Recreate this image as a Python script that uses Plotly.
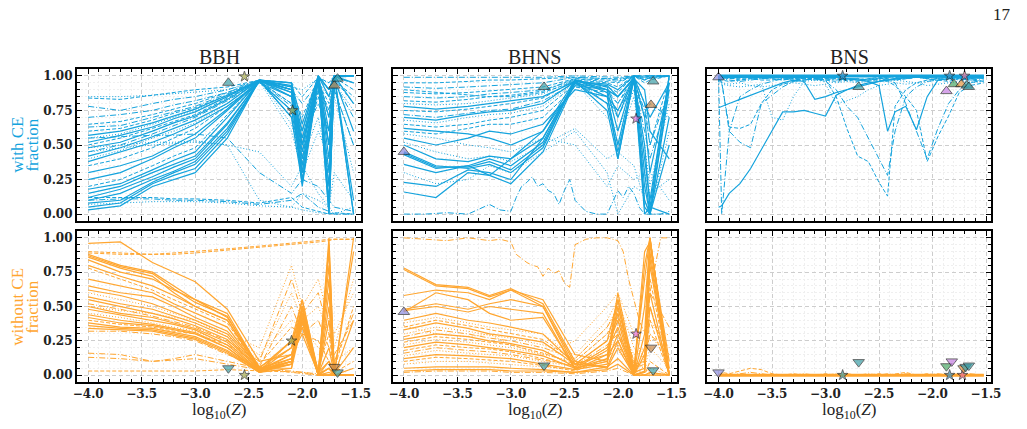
import plotly.graph_objects as go

# ---------------- data ----------------
X = [-4.0, -3.7, -3.4, -3.2, -3.0, -2.7, -2.4, -2.1, -2.0, -1.85, -1.75, -1.7, -1.52]
X_BHNS_FINE = [-4.0, -3.8, -3.6, -3.4, -3.2, -3.1, -3.0, -2.95, -2.9, -2.85, -2.8, -2.75, -2.7, -2.65,
               -2.6, -2.55, -2.5, -2.45, -2.4, -2.3, -2.2, -2.1, -2.0, -1.95, -1.9, -1.85, -1.8, -1.75,
               -1.7, -1.6, -1.52]
X_BNS = [-4.0, -3.97, -3.9, -3.8, -3.7, -3.6, -3.5, -3.4, -3.3, -3.2, -3.1, -3.0, -2.9, -2.8, -2.7,
         -2.6, -2.5, -2.42, -2.35, -2.25, -2.15, -2.05, -1.95, -1.85, -1.75, -1.65, -1.52]

BBH_CE = [
    [0.03, 0.06, 0.20, 0.25, 0.30, 0.55, 0.97, 0.95, 0.50, 0.98, 0.00, 1.00, 0.00],
    [0.05, 0.08, 0.22, 0.28, 0.33, 0.58, 0.97, 0.93, 0.40, 0.99, 0.05, 1.00, 0.10],
    [0.08, 0.10, 0.23, 0.30, 0.36, 0.60, 0.97, 0.90, 0.30, 0.99, 0.10, 1.00, 0.00],
    [0.10, 0.15, 0.25, 0.31, 0.38, 0.62, 0.96, 0.88, 0.25, 0.98, 0.20, 0.98, 0.60],
    [0.12, 0.18, 0.27, 0.34, 0.40, 0.65, 0.97, 0.85, 0.20, 0.97, 0.30, 1.00, 0.80],
    [0.15, 0.20, 0.30, 0.36, 0.42, 0.66, 0.96, 0.90, 0.35, 1.00, 0.50, 0.99, 1.00],
    [0.18, 0.22, 0.32, 0.39, 0.45, 0.70, 0.97, 0.92, 0.45, 1.00, 0.60, 1.00, 0.95],
    [0.20, 0.25, 0.35, 0.42, 0.48, 0.72, 0.96, 0.80, 0.55, 0.95, 0.70, 0.97, 0.85],
    [0.25, 0.30, 0.40, 0.48, 0.55, 0.75, 0.96, 0.75, 0.30, 0.99, 0.40, 1.00, 1.00],
    [0.30, 0.35, 0.42, 0.50, 0.58, 0.76, 0.97, 0.70, 0.22, 0.98, 0.00, 1.00, 1.00],
    [0.35, 0.40, 0.48, 0.55, 0.62, 0.78, 0.96, 0.80, 0.50, 0.95, 0.80, 0.99, 0.90],
    [0.38, 0.45, 0.52, 0.58, 0.65, 0.78, 0.95, 0.85, 0.60, 1.00, 0.90, 1.00, 1.00],
    [0.40, 0.46, 0.55, 0.60, 0.66, 0.80, 0.97, 0.65, 0.40, 0.70, 0.30, 0.95, 0.75],
    [0.42, 0.48, 0.56, 0.62, 0.68, 0.80, 0.97, 0.90, 0.55, 0.99, 0.50, 1.00, 1.00],
    [0.45, 0.50, 0.58, 0.64, 0.70, 0.82, 0.96, 0.75, 0.45, 0.85, 0.60, 0.90, 0.50],
    [0.48, 0.52, 0.60, 0.66, 0.71, 0.83, 0.97, 0.95, 0.65, 1.00, 0.85, 1.00, 1.00],
    [0.50, 0.55, 0.62, 0.67, 0.72, 0.84, 0.96, 0.70, 0.35, 0.90, 0.20, 0.99, 0.95],
    [0.52, 0.57, 0.63, 0.69, 0.74, 0.85, 0.97, 0.88, 0.50, 0.99, 0.70, 1.00, 1.00],
    [0.55, 0.58, 0.65, 0.70, 0.75, 0.85, 0.96, 0.60, 0.30, 0.60, 0.40, 0.85, 0.30],
    [0.57, 0.60, 0.66, 0.71, 0.76, 0.86, 0.97, 0.92, 0.60, 1.00, 0.90, 1.00, 1.00],
    [0.60, 0.62, 0.68, 0.73, 0.77, 0.86, 0.96, 0.85, 0.50, 0.95, 0.75, 0.98, 0.80],
    [0.63, 0.64, 0.70, 0.74, 0.78, 0.87, 0.96, 0.78, 0.40, 0.90, 0.50, 0.95, 0.70],
    [0.65, 0.67, 0.72, 0.76, 0.80, 0.88, 0.97, 0.90, 0.70, 0.98, 0.90, 1.00, 1.00],
    [0.70, 0.72, 0.75, 0.79, 0.82, 0.88, 0.96, 0.70, 0.55, 0.80, 0.60, 0.90, 0.50],
    [0.78, 0.75, 0.80, 0.83, 0.85, 0.90, 0.97, 0.90, 0.80, 0.95, 0.85, 0.99, 0.95],
    [0.84, 0.83, 0.86, 0.88, 0.90, 0.92, 0.97, 0.95, 0.85, 0.99, 0.95, 1.00, 1.00],
    [0.85, 0.85, 0.86, 0.87, 0.88, 0.90, 0.96, 0.92, 0.90, 0.98, 0.95, 1.00, 1.00],
    [0.12, 0.12, 0.12, 0.11, 0.11, 0.10, 0.08, 0.12, 0.05, 0.02, 0.00, 0.01, 0.00],
    [0.10, 0.11, 0.11, 0.10, 0.10, 0.09, 0.07, 0.10, 0.15, 0.05, 0.02, 0.00, 0.00],
    [0.07, 0.08, 0.09, 0.09, 0.09, 0.08, 0.06, 0.05, 0.03, 0.01, 0.00, 0.00, 0.00],
    [0.45, 0.48, 0.50, 0.51, 0.52, 0.50, 0.10, 0.05, 0.15, 0.10, 0.05, 0.00, 0.05],
    [0.55, 0.56, 0.57, 0.57, 0.58, 0.55, 0.30, 0.15, 0.25, 0.20, 0.10, 0.05, 0.02],
    [0.48, 0.50, 0.52, 0.52, 0.53, 0.50, 0.45, 0.20, 0.35, 0.15, 0.05, 0.30, 0.10],
]
BBH_CE_STYLE = ("s s s s s s s d s s d s o s dd s d s o s d dd d dd dd d o d dd o o dd o").split()

BBH_NOCE = [
    [0.88, 0.80, 0.75, 0.65, 0.55, 0.45, 0.05, 0.05, 0.50, 0.00, 1.00, 0.00, 1.00],
    [0.87, 0.79, 0.74, 0.63, 0.53, 0.43, 0.04, 0.08, 0.45, 0.01, 0.95, 0.02, 0.90],
    [0.86, 0.78, 0.72, 0.60, 0.50, 0.40, 0.03, 0.10, 0.40, 0.00, 0.90, 0.00, 0.40],
    [0.96, 0.97, 0.82, 0.75, 0.68, 0.48, 0.10, 0.15, 0.50, 0.02, 0.80, 0.01, 0.20],
    [0.84, 0.75, 0.70, 0.62, 0.55, 0.42, 0.06, 0.20, 0.55, 0.01, 0.70, 0.00, 0.00],
    [0.80, 0.72, 0.65, 0.58, 0.50, 0.40, 0.05, 0.25, 0.45, 0.00, 0.60, 0.00, 0.00],
    [0.78, 0.70, 0.62, 0.55, 0.48, 0.38, 0.04, 0.20, 0.35, 0.05, 0.30, 0.02, 0.10],
    [0.70, 0.65, 0.60, 0.52, 0.45, 0.35, 0.04, 0.10, 0.45, 0.00, 0.50, 0.00, 0.00],
    [0.65, 0.60, 0.57, 0.50, 0.42, 0.32, 0.05, 0.12, 0.42, 0.00, 0.40, 0.00, 0.00],
    [0.62, 0.58, 0.52, 0.46, 0.40, 0.30, 0.04, 0.10, 0.50, 0.01, 0.20, 0.00, 0.05],
    [0.60, 0.55, 0.50, 0.45, 0.40, 0.28, 0.15, 0.40, 0.35, 0.20, 0.15, 0.10, 0.20],
    [0.57, 0.52, 0.48, 0.43, 0.38, 0.28, 0.03, 0.08, 0.48, 0.00, 0.10, 0.00, 0.00],
    [0.55, 0.50, 0.45, 0.41, 0.36, 0.26, 0.04, 0.15, 0.40, 0.00, 0.05, 0.00, 0.00],
    [0.52, 0.48, 0.43, 0.39, 0.35, 0.25, 0.10, 0.70, 0.45, 0.60, 0.30, 0.15, 0.40],
    [0.50, 0.45, 0.42, 0.38, 0.34, 0.24, 0.03, 0.20, 0.50, 0.00, 0.05, 0.00, 0.00],
    [0.48, 0.44, 0.40, 0.37, 0.33, 0.22, 0.03, 0.25, 0.55, 0.02, 0.10, 0.00, 0.00],
    [0.45, 0.42, 0.38, 0.35, 0.32, 0.22, 0.12, 0.60, 0.40, 0.50, 0.30, 0.20, 0.70],
    [0.44, 0.40, 0.37, 0.34, 0.31, 0.20, 0.02, 0.10, 0.35, 0.00, 0.00, 0.00, 0.00],
    [0.42, 0.38, 0.36, 0.33, 0.30, 0.20, 0.03, 0.15, 0.30, 0.01, 0.05, 0.00, 0.00],
    [0.40, 0.37, 0.35, 0.32, 0.30, 0.22, 0.08, 0.35, 0.30, 0.25, 0.10, 0.05, 0.50],
    [0.38, 0.35, 0.34, 0.31, 0.28, 0.18, 0.03, 0.12, 0.45, 0.00, 0.00, 0.00, 0.00],
    [0.36, 0.34, 0.33, 0.30, 0.27, 0.17, 0.02, 0.08, 0.40, 0.00, 0.02, 0.00, 0.00],
    [0.34, 0.33, 0.32, 0.29, 0.26, 0.16, 0.02, 0.05, 0.38, 0.00, 0.00, 0.00, 0.00],
    [0.32, 0.32, 0.30, 0.28, 0.25, 0.15, 0.06, 0.50, 0.30, 0.40, 0.20, 0.10, 0.45],
    [0.90, 0.89, 0.88, 0.89, 0.90, 0.92, 0.94, 0.96, 0.97, 0.98, 0.99, 0.99, 0.99],
    [0.89, 0.88, 0.88, 0.88, 0.89, 0.91, 0.93, 0.95, 0.96, 0.97, 0.98, 0.99, 0.99],
    [0.16, 0.15, 0.10, 0.12, 0.15, 0.10, 0.05, 0.02, 0.01, 0.00, 0.00, 0.00, 0.00],
    [0.03, 0.03, 0.03, 0.03, 0.03, 0.04, 0.03, 0.02, 0.02, 0.00, 0.00, 0.00, 0.00],
    [0.13, 0.12, 0.10, 0.11, 0.12, 0.08, 0.04, 0.03, 0.02, 0.01, 0.00, 0.00, 0.00],
    [0.50, 0.47, 0.45, 0.42, 0.40, 0.30, 0.20, 0.80, 0.50, 0.70, 0.40, 0.30, 0.60],
]
BBH_NOCE_STYLE = ("s s s s s s d s s s o s s dd s s o s s d s s s dd d d dd d dd o").split()

BHNS_CE = [
    [0.45, 0.35, 0.33, 0.36, 0.30, 0.48, 0.97, 0.90, 0.60, 0.99, 0.30, 0.00, 0.90],
    [0.44, 0.34, 0.34, 0.38, 0.32, 0.50, 0.96, 0.85, 0.50, 1.00, 0.10, 0.00, 0.95],
    [0.43, 0.33, 0.35, 0.40, 0.35, 0.52, 0.97, 0.88, 0.40, 0.98, 0.00, 0.05, 1.00],
    [0.36, 0.30, 0.35, 0.28, 0.22, 0.45, 0.95, 0.80, 0.45, 0.97, 0.20, 0.00, 0.70],
    [0.23, 0.20, 0.32, 0.30, 0.25, 0.55, 0.96, 0.75, 0.40, 1.00, 0.05, 0.00, 0.50],
    [0.16, 0.12, 0.30, 0.28, 0.40, 0.60, 0.97, 0.92, 0.70, 0.99, 0.40, 0.10, 1.00],
    [0.30, 0.22, 0.25, 0.35, 0.30, 0.45, 0.60, 0.30, 0.00, 0.20, 0.15, 0.30, 0.10],
    [0.55, 0.50, 0.55, 0.60, 0.58, 0.65, 0.90, 0.85, 0.75, 0.99, 0.70, 0.30, 0.95],
    [0.60, 0.58, 0.62, 0.65, 0.65, 0.70, 0.92, 0.88, 0.80, 1.00, 0.80, 0.50, 0.98],
    [0.62, 0.60, 0.58, 0.55, 0.50, 0.60, 0.93, 0.90, 0.85, 0.98, 0.90, 0.60, 0.40],
    [0.65, 0.63, 0.65, 0.68, 0.70, 0.75, 0.94, 0.92, 0.88, 1.00, 0.95, 0.97, 1.00],
    [0.68, 0.66, 0.70, 0.72, 0.73, 0.78, 0.95, 0.70, 0.60, 0.90, 0.50, 0.20, 0.80],
    [0.70, 0.68, 0.72, 0.74, 0.75, 0.80, 0.96, 0.94, 0.90, 1.00, 0.97, 0.99, 1.00],
    [0.72, 0.70, 0.73, 0.75, 0.76, 0.82, 0.95, 0.85, 0.70, 0.95, 0.60, 0.40, 0.85],
    [0.75, 0.74, 0.76, 0.78, 0.80, 0.84, 0.97, 0.95, 0.92, 1.00, 0.98, 1.00, 1.00],
    [0.78, 0.76, 0.78, 0.80, 0.82, 0.85, 0.96, 0.93, 0.85, 0.99, 0.80, 0.70, 0.95],
    [0.80, 0.79, 0.80, 0.82, 0.84, 0.87, 0.97, 0.80, 0.50, 0.85, 0.30, 0.00, 0.60],
    [0.82, 0.81, 0.83, 0.85, 0.86, 0.89, 0.98, 0.96, 0.95, 1.00, 0.99, 1.00, 1.00],
    [0.85, 0.84, 0.85, 0.87, 0.88, 0.90, 0.97, 0.90, 0.80, 0.97, 0.75, 0.50, 0.90],
    [0.88, 0.87, 0.88, 0.89, 0.90, 0.92, 0.98, 0.97, 0.96, 1.00, 0.99, 0.98, 1.00],
    [0.92, 0.91, 0.92, 0.93, 0.94, 0.95, 0.99, 0.98, 0.97, 1.00, 1.00, 1.00, 1.00],
    [0.95, 0.95, 0.96, 0.97, 0.97, 0.98, 0.99, 0.98, 0.98, 1.00, 1.00, 1.00, 1.00],
    [0.99, 0.99, 0.99, 0.99, 0.99, 0.99, 1.00, 0.99, 0.99, 1.00, 1.00, 1.00, 1.00],
    [0.58, 0.55, 0.50, 0.48, 0.45, 0.55, 0.50, 0.20, 0.35, 0.25, 0.30, 0.15, 0.25],
    [0.52, 0.45, 0.40, 0.42, 0.38, 0.50, 0.62, 0.40, 0.45, 0.35, 0.10, 0.00, 0.00],
    [0.50, 0.40, 0.38, 0.42, 0.40, 0.55, 0.95, 0.90, 0.85, 0.98, 0.50, 0.05, 0.00],
    [0.90, 0.88, 0.86, 0.85, 0.85, 0.88, 0.96, 0.80, 0.75, 0.95, 0.70, 0.80, 0.70],
]
BHNS_CE_STYLE = ("s s s s s s o s d s d o s dd d s o d dd d dd d dd o o s d").split()
BHNS_CE_FINE = [0.00, 0.00, 0.01, 0.00, 0.07, 0.03, 0.02, 0.12, 0.20, 0.23, 0.27, 0.20, 0.22, 0.17,
                0.15, 0.07, 0.17, 0.25, 0.10, 0.02, 0.00, 0.00, 0.17, 0.12, 0.20, 0.15, 0.05, 0.00,
                0.00, 0.00, 0.02]

BHNS_NOCE = [
    [0.78, 0.66, 0.64, 0.58, 0.63, 0.52, 0.10, 0.05, 0.20, 0.00, 0.30, 1.00, 0.00],
    [0.77, 0.65, 0.63, 0.57, 0.62, 0.50, 0.08, 0.06, 0.25, 0.00, 0.50, 0.95, 0.05],
    [0.48, 0.52, 0.48, 0.52, 0.55, 0.50, 0.05, 0.10, 0.55, 0.00, 0.80, 1.00, 0.00],
    [0.47, 0.50, 0.46, 0.50, 0.48, 0.45, 0.04, 0.08, 0.50, 0.02, 0.90, 0.97, 0.10],
    [0.46, 0.60, 0.55, 0.45, 0.40, 0.42, 0.05, 0.12, 0.60, 0.05, 0.70, 1.00, 0.00],
    [0.40, 0.45, 0.40, 0.38, 0.35, 0.30, 0.08, 0.15, 0.45, 0.00, 0.20, 0.60, 0.00],
    [0.38, 0.42, 0.38, 0.35, 0.33, 0.30, 0.12, 0.35, 0.50, 0.10, 0.15, 0.40, 0.20],
    [0.35, 0.40, 0.36, 0.33, 0.30, 0.26, 0.10, 0.30, 0.45, 0.08, 0.10, 0.50, 0.05],
    [0.33, 0.38, 0.34, 0.30, 0.28, 0.24, 0.08, 0.25, 0.55, 0.02, 0.05, 0.90, 0.00],
    [0.30, 0.35, 0.32, 0.29, 0.27, 0.22, 0.15, 0.40, 0.55, 0.20, 0.10, 0.30, 0.10],
    [0.28, 0.33, 0.30, 0.27, 0.25, 0.20, 0.12, 0.35, 0.48, 0.10, 0.05, 0.60, 0.35],
    [0.26, 0.30, 0.28, 0.25, 0.23, 0.18, 0.06, 0.20, 0.40, 0.00, 0.02, 0.80, 0.00],
    [0.24, 0.28, 0.26, 0.24, 0.22, 0.16, 0.08, 0.25, 0.42, 0.05, 0.08, 0.70, 0.02],
    [0.22, 0.26, 0.24, 0.22, 0.20, 0.15, 0.10, 0.30, 0.38, 0.15, 0.20, 0.25, 0.30],
    [0.20, 0.24, 0.22, 0.20, 0.18, 0.14, 0.05, 0.18, 0.35, 0.00, 0.03, 0.85, 0.00],
    [0.18, 0.22, 0.20, 0.19, 0.17, 0.12, 0.06, 0.20, 0.33, 0.02, 0.05, 0.40, 0.00],
    [0.16, 0.20, 0.18, 0.17, 0.15, 0.11, 0.07, 0.22, 0.30, 0.05, 0.10, 0.30, 0.15],
    [0.14, 0.18, 0.16, 0.15, 0.14, 0.10, 0.06, 0.18, 0.28, 0.08, 0.05, 0.20, 0.05],
    [0.12, 0.15, 0.14, 0.13, 0.12, 0.08, 0.04, 0.15, 0.25, 0.00, 0.02, 0.50, 0.00],
    [0.10, 0.13, 0.12, 0.11, 0.10, 0.07, 0.03, 0.12, 0.22, 0.02, 0.00, 0.10, 0.00],
    [0.08, 0.10, 0.10, 0.09, 0.08, 0.06, 0.04, 0.10, 0.18, 0.03, 0.02, 0.05, 0.00],
    [0.05, 0.06, 0.06, 0.06, 0.05, 0.04, 0.02, 0.06, 0.12, 0.00, 0.00, 0.02, 0.00],
    [0.03, 0.04, 0.04, 0.04, 0.03, 0.03, 0.02, 0.04, 0.08, 0.00, 0.00, 0.00, 0.00],
    [0.02, 0.03, 0.03, 0.03, 0.02, 0.02, 0.01, 0.03, 0.05, 0.00, 0.00, 0.00, 0.00],
    [0.36, 0.30, 0.28, 0.30, 0.22, 0.15, 0.25, 0.50, 0.60, 0.30, 0.10, 0.00, 0.02],
    [0.58, 0.62, 0.60, 0.55, 0.62, 0.55, 0.15, 0.10, 0.30, 0.00, 0.15, 1.00, 0.00],
]
BHNS_NOCE_STYLE = ("s s s s s s o d s o dd s d o s d dd o s d o s s dd o s").split()
BHNS_NOCE_FINE = [1.00, 0.99, 0.98, 1.00, 0.98, 0.99, 0.97, 0.88, 0.85, 0.82, 0.80, 0.79, 0.72, 0.78,
                  0.74, 0.76, 0.67, 0.64, 0.95, 0.99, 1.00, 1.00, 0.98, 0.90, 0.70, 0.55, 0.40, 0.30,
                  0.60, 1.00, 1.00]

BNS_CE = [
    [0.05, 0.06, 0.15, 0.22, 0.33, 0.47, 0.60, 0.74, 0.74, 0.75, 0.73, 0.71, 0.86, 0.90, 0.93, 0.95, 0.96, 0.97, 0.98, 0.99, 0.99, 1.00, 1.00, 1.00, 1.00, 1.00, 1.00],
    [0.77, 0.78, 0.80, 0.83, 0.86, 0.89, 0.92, 0.95, 0.97, 0.96, 0.83, 0.85, 0.88, 0.90, 0.92, 0.94, 0.96, 0.97, 0.98, 0.99, 0.99, 0.99, 1.00, 1.00, 1.00, 1.00, 1.00],
    [1.00, 0.00, 0.60, 0.85, 0.90, 0.94, 0.96, 0.98, 0.99, 0.98, 0.99, 0.99, 0.98, 0.97, 0.98, 0.97, 0.98, 0.99, 0.99, 0.98, 0.99, 0.99, 0.99, 0.99, 0.99, 0.98, 0.99],
    [0.98, 0.96, 0.60, 0.52, 0.48, 0.80, 0.86, 0.92, 0.96, 0.97, 0.98, 0.98, 0.97, 0.98, 0.97, 0.98, 0.98, 0.99, 0.98, 0.99, 0.99, 0.98, 0.99, 0.99, 0.98, 0.99, 0.98],
    [0.97, 0.95, 0.63, 0.62, 0.65, 0.80, 0.90, 0.94, 0.96, 0.97, 0.98, 0.97, 0.96, 0.97, 0.98, 0.97, 0.98, 0.98, 0.97, 0.98, 0.99, 0.99, 0.98, 0.99, 0.99, 0.98, 0.99],
    [0.99, 0.99, 0.98, 0.98, 0.99, 0.98, 0.99, 0.99, 0.98, 0.99, 0.98, 0.97, 0.85, 0.62, 0.42, 0.38, 0.23, 0.13, 0.78, 0.90, 0.95, 0.97, 0.98, 0.99, 0.99, 0.98, 0.99],
    [0.99, 0.98, 0.97, 0.96, 0.97, 0.98, 0.98, 0.97, 0.98, 0.97, 0.98, 0.96, 0.90, 0.78, 0.70, 0.55, 0.40, 0.28, 0.60, 0.85, 0.92, 0.96, 0.97, 0.98, 0.98, 0.97, 0.98],
    [0.99, 0.99, 0.99, 0.99, 0.99, 0.99, 0.99, 0.99, 0.99, 0.99, 0.99, 0.99, 0.99, 0.98, 0.97, 0.96, 0.93, 0.60, 0.74, 0.78, 0.61, 0.85, 0.97, 0.98, 0.99, 0.99, 0.99],
    [0.98, 0.98, 0.98, 0.99, 0.98, 0.98, 0.99, 0.98, 0.98, 0.99, 0.98, 0.98, 0.99, 0.98, 0.98, 0.97, 0.98, 0.97, 0.95, 0.80, 0.60, 0.40, 0.62, 0.80, 0.90, 0.95, 0.97],
    [0.97, 0.97, 0.96, 0.97, 0.98, 0.97, 0.97, 0.98, 0.97, 0.98, 0.98, 0.97, 0.98, 0.97, 0.96, 0.97, 0.97, 0.96, 0.93, 0.85, 0.75, 0.38, 0.56, 0.71, 0.88, 0.93, 0.95],
    [0.96, 0.95, 0.94, 0.95, 0.93, 0.94, 0.70, 0.68, 0.85, 0.96, 0.97, 0.96, 0.95, 0.96, 0.95, 0.96, 0.97, 0.96, 0.97, 0.96, 0.95, 0.96, 0.97, 0.98, 0.97, 0.96, 0.97],
    [0.95, 0.94, 0.93, 0.92, 0.93, 0.92, 0.93, 0.94, 0.95, 0.94, 0.93, 0.94, 0.80, 0.82, 0.85, 0.90, 0.93, 0.94, 0.95, 0.94, 0.95, 0.93, 0.94, 0.95, 0.96, 0.95, 0.96],
    [0.99, 0.98, 0.99, 0.97, 0.98, 0.99, 0.98, 0.97, 0.99, 0.98, 0.97, 0.98, 0.99, 0.98, 0.97, 0.98, 0.99, 0.98, 0.97, 0.98, 0.99, 0.98, 0.97, 0.96, 0.98, 0.97, 0.96],
    [1.00, 1.00, 1.00, 1.00, 1.00, 1.00, 1.00, 1.00, 1.00, 1.00, 1.00, 1.00, 1.00, 1.00, 1.00, 1.00, 1.00, 1.00, 1.00, 1.00, 1.00, 1.00, 1.00, 1.00, 1.00, 1.00, 1.00],
]
BNS_CE_STYLE = ("s s dd dd d d dd s dd d o o d S").split()

BNS_NOCE = [
    [0.00, 0.02, 0.01, 0.03, 0.05, 0.04, 0.01, 0.00, 0.01, 0.00, 0.00, 0.01, 0.00, 0.01, 0.00, 0.00, 0.01, 0.00, 0.01, 0.02, 0.00, 0.01, 0.00, 0.00, 0.01, 0.00, 0.00],
    [0.00, 0.01, 0.00, 0.01, 0.02, 0.01, 0.00, 0.00, 0.00, 0.01, 0.00, 0.00, 0.01, 0.00, 0.00, 0.01, 0.00, 0.01, 0.00, 0.01, 0.00, 0.00, 0.01, 0.00, 0.00, 0.01, 0.00],
    [0.00, 0.00, 0.00, 0.00, 0.00, 0.00, 0.00, 0.00, 0.00, 0.00, 0.00, 0.00, 0.00, 0.00, 0.00, 0.00, 0.00, 0.00, 0.00, 0.00, 0.00, 0.00, 0.00, 0.00, 0.00, 0.00, 0.00],
]
BNS_NOCE_STYLE = ("d dd S").split()

# marker colours
TEAL = "#3d9fa7"
OLIVE = "#a3a84b"
BROWN = "#c4874a"
PURPLE = "#8c8ce0"
PINK = "#e06fd4"
BSTAR = "#3592c8"
GREEN = "#4aa864"
VIOLET = "#c57ee2"
ORANGE_M = "#e6953f"
ROSE = "#ec7096"

MK_BBH_CE_X = [-2.69, -2.54, -2.09, -1.70, -1.67]
MK_BBH_CE_Y = [0.95, 0.995, 0.75, 0.93, 0.98]
MK_BBH_CE_SYM = ["triangle-up", "star", "star", "triangle-up", "triangle-up"]
MK_BBH_CE_COL = [TEAL, OLIVE, OLIVE, BROWN, TEAL]

MK_BBH_NOCE_X = [-2.69, -2.54, -2.10, -1.70, -1.67]
MK_BBH_NOCE_Y = [0.05, 0.00, 0.25, 0.06, 0.02]
MK_BBH_NOCE_SYM = ["triangle-down", "star", "star", "triangle-down", "triangle-down"]
MK_BBH_NOCE_COL = [TEAL, OLIVE, OLIVE, BROWN, TEAL]

MK_BHNS_CE_X = [-4.0, -2.69, -1.83, -1.69, -1.67]
MK_BHNS_CE_Y = [0.45, 0.92, 0.69, 0.79, 0.96]
MK_BHNS_CE_SYM = ["triangle-up", "triangle-up", "star", "triangle-up", "triangle-up"]
MK_BHNS_CE_COL = [PURPLE, TEAL, PINK, BROWN, TEAL]

MK_BHNS_NOCE_X = [-4.0, -2.69, -1.83, -1.69, -1.67]
MK_BHNS_NOCE_Y = [0.46, 0.07, 0.30, 0.20, 0.035]
MK_BHNS_NOCE_SYM = ["triangle-up", "triangle-down", "star", "triangle-down", "triangle-down"]
MK_BHNS_NOCE_COL = [PURPLE, TEAL, PINK, BROWN, TEAL]

MK_BNS_CE_X = [-4.0, -2.84, -2.69, -1.87, -1.84, -1.80, -1.73, -1.70, -1.68, -1.66]
MK_BNS_CE_Y = [0.99, 1.00, 0.92, 0.89, 1.00, 0.94, 0.94, 1.00, 0.93, 0.92]
MK_BNS_CE_SYM = ["triangle-up", "star", "triangle-up", "triangle-up", "star", "triangle-up",
                 "triangle-up", "star", "triangle-up", "triangle-up"]
MK_BNS_CE_COL = [PURPLE, BSTAR, TEAL, VIOLET, BSTAR, GREEN, ORANGE_M, ROSE, TEAL, TEAL]

MK_BNS_NOCE_X = [-4.0, -2.84, -2.69, -1.87, -1.82, -1.84, -1.72, -1.71, -1.69, -1.66]
MK_BNS_NOCE_Y = [0.02, 0.00, 0.095, 0.065, 0.10, 0.00, 0.00, 0.05, 0.06, 0.07]
MK_BNS_NOCE_SYM = ["triangle-down", "star", "triangle-down", "triangle-down", "triangle-down", "star",
                   "star", "triangle-down", "triangle-down", "triangle-down"]
MK_BNS_NOCE_COL = [PURPLE, TEAL, TEAL, GREEN, VIOLET, BSTAR, ROSE, ORANGE_M, TEAL, TEAL]

TITLES = ["BBH", "BHNS", "BNS"]

# ---------------- styling ----------------
BLUE = "#14a3dd"
ORANGE = "#ffa630"
DASHES = {"s": "solid", "S": "solid", "d": "4px,2px", "o": "1px,2px", "dd": "6px,2px,1px,2px"}
WIDTHS = {"s": 1.2, "S": 3.0, "d": 1.0, "o": 1.0, "dd": 1.0}

fig = go.Figure()


def add_lines(xs, rows, styles, color, ax):
    for vals, st in zip(rows, styles):
        fig.add_trace(go.Scatter(x=xs, y=vals, mode="lines", xaxis="x" + ax, yaxis="y" + ax,
                                 line=dict(color=color, width=WIDTHS[st], dash=DASHES[st]),
                                 showlegend=False, hoverinfo="skip"))


def add_markers(xs, ys, syms, cols, ax):
    fig.add_trace(go.Scatter(x=xs, y=ys, mode="markers", xaxis="x" + ax, yaxis="y" + ax,
                             marker=dict(symbol=syms, color=cols,
                                         size=[10 if s != "star" else 8 for s in syms],
                                         line=dict(color="#1a1a1a", width=0.9)),
                             showlegend=False, hoverinfo="skip", cliponaxis=False))


add_lines(X, BBH_CE, BBH_CE_STYLE, BLUE, "")
add_lines(X, BHNS_CE, BHNS_CE_STYLE, BLUE, "2")
add_lines(X_BHNS_FINE, [BHNS_CE_FINE], ["dd"], BLUE, "2")
add_lines(X_BNS, BNS_CE, BNS_CE_STYLE, BLUE, "3")
add_lines(X, BBH_NOCE, BBH_NOCE_STYLE, ORANGE, "4")
add_lines(X, BHNS_NOCE, BHNS_NOCE_STYLE, ORANGE, "5")
add_lines(X_BHNS_FINE, [BHNS_NOCE_FINE], ["dd"], ORANGE, "5")
add_lines(X_BNS, BNS_NOCE, BNS_NOCE_STYLE, ORANGE, "6")

add_markers(MK_BBH_CE_X, MK_BBH_CE_Y, MK_BBH_CE_SYM, MK_BBH_CE_COL, "")
add_markers(MK_BHNS_CE_X, MK_BHNS_CE_Y, MK_BHNS_CE_SYM, MK_BHNS_CE_COL, "2")
add_markers(MK_BNS_CE_X, MK_BNS_CE_Y, MK_BNS_CE_SYM, MK_BNS_CE_COL, "3")
add_markers(MK_BBH_NOCE_X, MK_BBH_NOCE_Y, MK_BBH_NOCE_SYM, MK_BBH_NOCE_COL, "4")
add_markers(MK_BHNS_NOCE_X, MK_BHNS_NOCE_Y, MK_BHNS_NOCE_SYM, MK_BHNS_NOCE_COL, "5")
add_markers(MK_BNS_NOCE_X, MK_BNS_NOCE_Y, MK_BNS_NOCE_SYM, MK_BNS_NOCE_COL, "6")

W, H = 1027, 429
XDOM = [(74 / W, 362 / W), (394 / W, 682 / W), (713 / W, 1001 / W)]
YDOM = [(1 - 221 / H, 1 - 69 / H), (1 - 382 / H, 1 - 231 / H)]

tickfont = dict(family="DejaVu Serif", size=12, color="#222222", weight="bold")


def axis_base():
    return dict(showline=True, linecolor="black", linewidth=2, mirror="allticks",
                ticks="inside", ticklen=5, tickwidth=1, tickcolor="black",
                showgrid=True, gridcolor="#cdcdcd", griddash="4px,3px", gridwidth=0.8,
                zeroline=False, tickfont=tickfont)


layout = dict(width=W, height=H, margin=dict(l=0, r=0, t=0, b=0),
              paper_bgcolor="white", plot_bgcolor="white", showlegend=False)

for i in range(6):
    r, c = divmod(i, 3)
    suf = "" if i == 0 else str(i + 1)
    xa = axis_base()
    xa.update(domain=XDOM[c], range=[-4.105, -1.45], tick0=-4, dtick=0.5, tickformat=".1f",
              anchor="y" + suf, showticklabels=(r == 1),
              minor=dict(ticks="inside", ticklen=3, tickcolor="black", tick0=-4, dtick=0.1,
                         showgrid=True, gridcolor="#efefef", griddash="2px,2px", gridwidth=0.6))
    ya = axis_base()
    ya.update(domain=YDOM[r], range=[-0.05, 1.05], tick0=0, dtick=0.25, tickformat=".2f",
              anchor="x" + suf, showticklabels=(c == 0),
              minor=dict(ticks="inside", ticklen=3, tickcolor="black", tick0=0, dtick=0.05,
                         showgrid=True, gridcolor="#efefef", griddash="2px,2px", gridwidth=0.6))
    layout["xaxis" + suf] = xa
    layout["yaxis" + suf] = ya

fig.update_layout(**layout)

ann = []
serif = "Liberation Serif"
for c, t in enumerate(TITLES):
    xc = (XDOM[c][0] + XDOM[c][1]) / 2
    ann.append(dict(text=t, x=xc, y=1 - 57 / H, xref="paper", yref="paper", showarrow=False,
                    xanchor="center", yanchor="middle", font=dict(family=serif, size=20, color="#222")))
    ann.append(dict(text="log<sub>10</sub>(<i>Z</i>)", x=xc, y=1 - 411 / H, xref="paper", yref="paper",
                    showarrow=False, xanchor="center", yanchor="middle",
                    font=dict(family=serif, size=17, color="#222")))

ann.append(dict(text="17", x=1012 / W, y=1 - 14 / H, xref="paper", yref="paper", showarrow=False,
                xanchor="center", yanchor="middle", font=dict(family=serif, size=17, color="#222")))

for (l1, l2, yc, col) in [("with CE", "fraction", 145, BLUE), ("without CE", "fraction", 307, ORANGE)]:
    ann.append(dict(text=l1, x=13 / W, y=1 - yc / H, xref="paper", yref="paper", showarrow=False,
                    textangle=-90, xanchor="center", yanchor="middle",
                    font=dict(family=serif, size=17, color=col)))
    ann.append(dict(text=l2, x=28 / W, y=1 - yc / H, xref="paper", yref="paper", showarrow=False,
                    textangle=-90, xanchor="center", yanchor="middle",
                    font=dict(family=serif, size=17, color=col)))

fig.update_layout(annotations=ann)
fig.write_html("out.html")
